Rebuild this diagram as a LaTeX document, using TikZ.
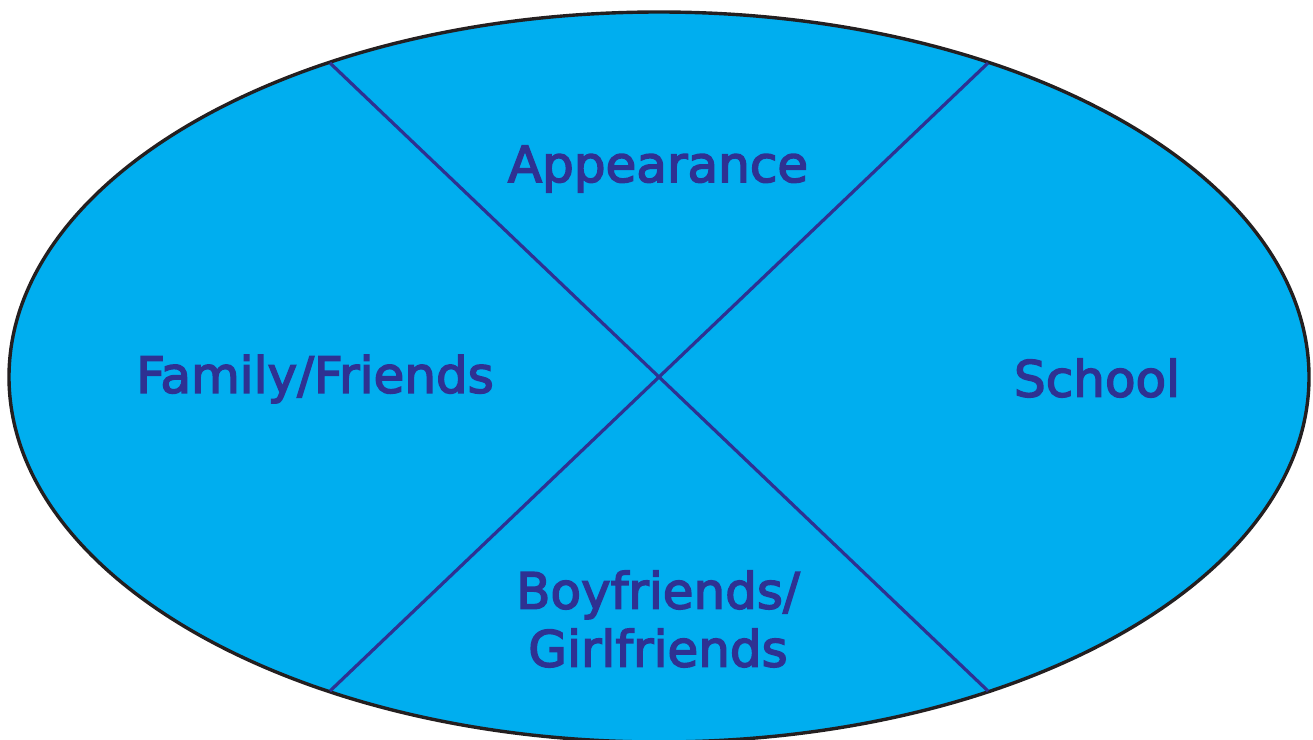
\documentclass[tikz,border=0pt]{standalone}
\usepackage{fontspec}
\setmainfont{DejaVu Sans}
\newfontfamily\labelfont[FakeBold=3]{DejaVu Sans}
\usepackage{tikz}
\usetikzlibrary{shapes.geometric}
\definecolor{ovalfill}{HTML}{00AEEF}
\definecolor{ink}{HTML}{2E3192}
\definecolor{rim}{HTML}{231F20}

\begin{document}
\begin{tikzpicture}[
  x=1pt, y=-1pt,
  every node/.style = {font=\labelfont\fontsize{50}{58}\selectfont, text=ink},
  %% shapes
  oval/.style   = {ellipse, draw=rim, line width=3.4pt, fill=ovalfill,
                   minimum width=1300pt, minimum height=730pt, inner sep=0pt},
  divider/.style = {draw=ink, line width=3.2pt},
  label/.style  = {align=center, inner sep=0pt}
]
\useasboundingbox (0,0) rectangle (1313,739);

%% ---- Oval ----
\node[oval] (O) at (659,377) {};

%% ---- Ends of the dividers ----
\coordinate (TL) at (330,63);
\coordinate (TR) at (988,63);
\coordinate (BL) at (330,691);
\coordinate (BR) at (988,691);

\draw[divider] (TL) -- (BR);
\draw[divider] (TR) -- (BL);

%% ---- Labels ----
\node[label] (APP) at (658,169) {Appearance};
\node[label] (FAM) at (315,379) {Family/Friends};
\node[label] (SCH) at (1097,378) {School};
\node[label] (BOY) at (658,619) {Boyfriends/\\Girlfriends};

\end{tikzpicture}
\end{document}
